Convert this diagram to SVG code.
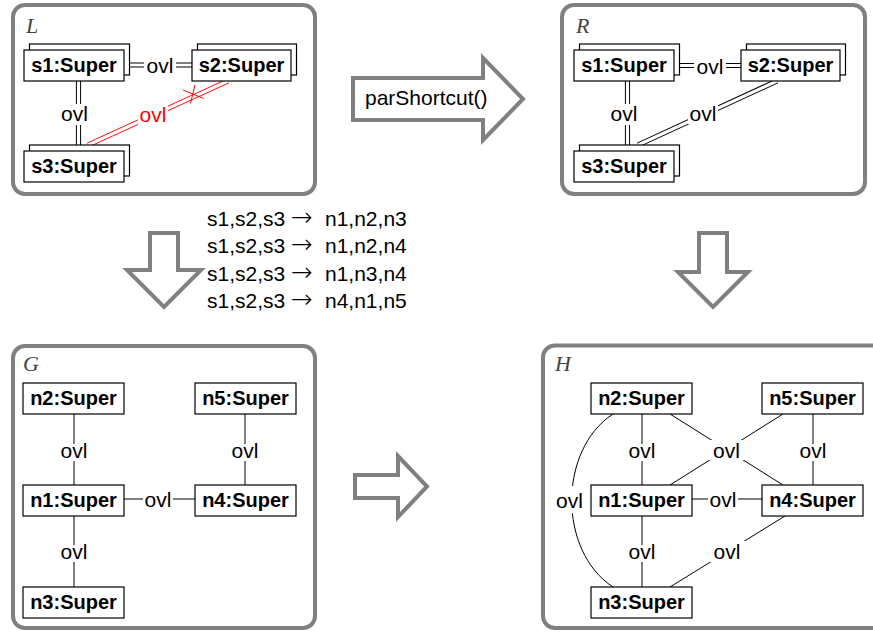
<svg xmlns="http://www.w3.org/2000/svg" width="873" height="632" viewBox="0 0 873 632">
  <style>
    .frame { fill: none; stroke: #808080; stroke-width: 4; }
    .bigarrow { fill: #fff; stroke: #808080; stroke-width: 4; stroke-linejoin: miter; }
    .box { fill: #fff; stroke: #000; stroke-width: 1.2; }
    .name { font-family: "Liberation Sans", Arial, sans-serif; font-weight: bold; font-size: 20px; text-anchor: middle; fill: #000; }
    .ovl { font-family: "Liberation Sans", Arial, sans-serif; font-size: 21px; text-anchor: middle; fill: #000; }
    .ovl.red { fill: #ff0000; }
    .txt { font-family: "Liberation Sans", Arial, sans-serif; font-size: 21px; fill: #000; }
    .to { font-family: "DejaVu Sans", sans-serif; font-weight: 200; font-size: 26px; }
    .title { font-family: "Liberation Serif", "Times New Roman", serif; font-style: italic; font-size: 22px; fill: #444; }
    .edge { fill: none; stroke: #000; stroke-width: 1; }
    .dbl { fill: none; stroke: #000; stroke-width: 5.2; }
    .dbl.red { stroke: #ff0000; }
    .dblin { fill: none; stroke: #fff; stroke-width: 3.2; }
    .cross { fill: none; stroke: #ff0000; stroke-width: 1; }
    .bg { fill: #fff; }
  </style>

  <!-- graph frames -->
  <g id="frames">
    <rect class="frame" x="13" y="5" width="302" height="189" rx="12"/>
    <rect class="frame" x="562" y="5" width="303" height="189" rx="12"/>
    <rect class="frame" x="13" y="346" width="302" height="282" rx="12"/>
    <rect class="frame" x="543" y="345.5" width="345" height="282.5" rx="12"/>
    <text class="title" x="26" y="33">L</text>
    <text class="title" x="576" y="33">R</text>
    <text class="title" x="23" y="371">G</text>
    <text class="title" x="555" y="371">H</text>
  </g>

  <!-- block arrows -->
  <g id="arrows">
    <path class="bigarrow" d="M353,78 H483 V58 L523,99 L483,140 V120 H353 Z"/>
    <text class="txt" x="365" y="105">parShortcut()</text>
    <path class="bigarrow" d="M150,233 H178 V270 H201 L164,307 L127,270 H150 Z"/>
    <path class="bigarrow" d="M699,233 H727 V272 H748 L713,307 L678,272 H699 Z"/>
    <path class="bigarrow" d="M355,475 H398 V456 L427,486.5 L398,517 V498 H355 Z"/>
  </g>

  <!-- match list -->
  <g id="matches" class="txt">
    <text x="207" y="226">s1,s2,s3<tspan class="to" x="291">→</tspan><tspan x="325">n1,n2,n3</tspan></text>
    <text x="207" y="253.3">s1,s2,s3<tspan class="to" x="291">→</tspan><tspan x="325">n1,n2,n4</tspan></text>
    <text x="207" y="280.6">s1,s2,s3<tspan class="to" x="291">→</tspan><tspan x="325">n1,n3,n4</tspan></text>
    <text x="207" y="308">s1,s2,s3<tspan class="to" x="291">→</tspan><tspan x="325">n4,n1,n5</tspan></text>
  </g>

  <!-- connectors -->
  <g id="connectors">
    <!-- L -->
    <path class="dbl" d="M129.5,65 H192"/><path class="dblin" d="M129.5,65 H192"/>
    <rect class="bg" x="144" y="54" width="32" height="22"/>
    <text class="ovl" x="160" y="73">ovl</text>

    <path class="dbl" d="M78.5,81 V145"/><path class="dblin" d="M78.5,81 V145"/>
    <rect class="bg" x="59" y="104" width="32" height="21"/>
    <text class="ovl" x="74.5" y="121">ovl</text>

    <path class="dbl red" d="M88,145 L228,81"/><path class="dblin" d="M88,145 L228,81"/>
    <rect class="bg" x="138" y="105" width="30" height="20"/>
    <text class="ovl red" x="153" y="122">ovl</text>
    <path class="cross" d="M183,90 L203.5,98.5 M195,85 L190.5,103.5"/>

    <!-- R -->
    <path class="dbl" d="M679.5,65.5 H741"/><path class="dblin" d="M679.5,65.5 H741"/>
    <rect class="bg" x="694" y="54" width="32" height="22"/>
    <text class="ovl" x="710" y="73.5">ovl</text>

    <path class="dbl" d="M627.5,81 V145"/><path class="dblin" d="M627.5,81 V145"/>
    <rect class="bg" x="608" y="104" width="32" height="21"/>
    <text class="ovl" x="624" y="121">ovl</text>

    <path class="dbl" d="M638,145 L777,81"/><path class="dblin" d="M638,145 L777,81"/>
    <rect class="bg" x="688" y="104" width="30" height="20"/>
    <text class="ovl" x="703" y="121">ovl</text>

    <!-- G -->
    <path class="edge" d="M74,414 V485 M74,516 V587 M124,499 H195 M245,414 V485"/>
    <rect class="bg" x="58" y="444" width="32" height="17"/>
    <text class="ovl" x="74" y="457.5">ovl</text>
    <rect class="bg" x="58" y="545" width="32" height="17"/>
    <text class="ovl" x="74" y="559">ovl</text>
    <rect class="bg" x="143" y="488" width="30" height="22"/>
    <text class="ovl" x="158" y="507">ovl</text>
    <rect class="bg" x="229" y="444" width="32" height="17"/>
    <text class="ovl" x="245" y="457.5">ovl</text>

    <!-- H -->
    <path class="edge" d="M642,414 V485 M642,516 V587 M692,499 H762 M813,414 V485"/>
    <path class="edge" d="M670,414 L783,485 M783,414 L670,485 M785,516 L670,587"/>
    <path class="edge" d="M613,414 C558,450 558,551 613,587"/>
    <rect class="bg" x="626" y="444" width="32" height="17"/>
    <text class="ovl" x="642" y="457.5">ovl</text>
    <rect class="bg" x="626" y="545" width="32" height="17"/>
    <text class="ovl" x="642" y="559">ovl</text>
    <rect class="bg" x="708" y="488" width="30" height="22"/>
    <text class="ovl" x="723" y="507">ovl</text>
    <rect class="bg" x="797" y="444" width="32" height="17"/>
    <text class="ovl" x="813" y="457.5">ovl</text>
    <rect class="bg" x="708" y="440" width="37" height="20"/>
    <text class="ovl" x="726.5" y="458">ovl</text>
    <rect class="bg" x="709" y="541" width="36" height="21"/>
    <text class="ovl" x="727" y="559">ovl</text>
    <rect class="bg" x="555" y="486" width="30" height="27"/>
    <text class="ovl" x="569.5" y="507.5">ovl</text>
  </g>

  <!-- L nodes -->
  <g id="L-s1"><rect class="box" x="29.5" y="44" width="100" height="31"/><rect class="box" x="24" y="50" width="100" height="31"/><text class="name" x="74" y="72">s1:Super</text></g>
  <g id="L-s2"><rect class="box" x="197.5" y="44" width="99" height="31"/><rect class="box" x="192" y="50" width="99" height="31"/><text class="name" x="241.5" y="72">s2:Super</text></g>
  <g id="L-s3"><rect class="box" x="29.5" y="145" width="100" height="31"/><rect class="box" x="24" y="151" width="100" height="31"/><text class="name" x="74" y="173">s3:Super</text></g>

  <!-- R nodes -->
  <g id="R-s1"><rect class="box" x="579.5" y="44" width="100" height="31"/><rect class="box" x="574" y="50" width="100" height="31"/><text class="name" x="624" y="72">s1:Super</text></g>
  <g id="R-s2"><rect class="box" x="746.5" y="44" width="99" height="31"/><rect class="box" x="741" y="50" width="99" height="31"/><text class="name" x="790.5" y="72">s2:Super</text></g>
  <g id="R-s3"><rect class="box" x="579.5" y="145" width="100" height="31"/><rect class="box" x="574" y="151" width="100" height="31"/><text class="name" x="624" y="173">s3:Super</text></g>

  <!-- G nodes -->
  <g id="G-n2"><rect class="box" x="23" y="383" width="101" height="31"/><text class="name" x="73.5" y="405">n2:Super</text></g>
  <g id="G-n5"><rect class="box" x="195" y="383" width="101" height="31"/><text class="name" x="245.5" y="405">n5:Super</text></g>
  <g id="G-n1"><rect class="box" x="23" y="485" width="101" height="31"/><text class="name" x="73.5" y="507">n1:Super</text></g>
  <g id="G-n4"><rect class="box" x="195" y="485" width="101" height="31"/><text class="name" x="245.5" y="507">n4:Super</text></g>
  <g id="G-n3"><rect class="box" x="23" y="587" width="101" height="31"/><text class="name" x="73.5" y="609">n3:Super</text></g>

  <!-- H nodes -->
  <g id="H-n2"><rect class="box" x="591" y="383" width="101" height="31"/><text class="name" x="641.5" y="405">n2:Super</text></g>
  <g id="H-n5"><rect class="box" x="762" y="383" width="101" height="31"/><text class="name" x="812.5" y="405">n5:Super</text></g>
  <g id="H-n1"><rect class="box" x="591" y="485" width="101" height="31"/><text class="name" x="641.5" y="507">n1:Super</text></g>
  <g id="H-n4"><rect class="box" x="762" y="485" width="101" height="31"/><text class="name" x="812.5" y="507">n4:Super</text></g>
  <g id="H-n3"><rect class="box" x="591" y="587" width="101" height="31"/><text class="name" x="641.5" y="609">n3:Super</text></g>
</svg>
